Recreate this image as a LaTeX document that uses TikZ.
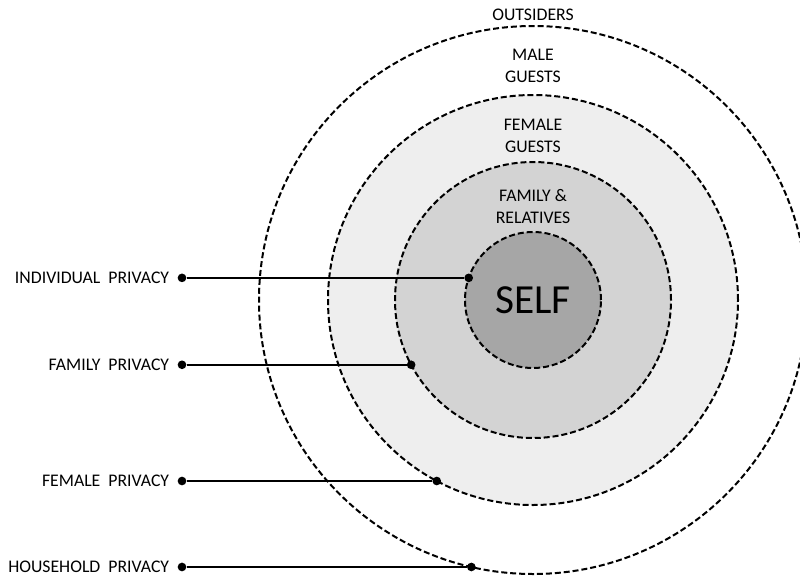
\documentclass[tikz,border=0pt]{standalone}
\usepackage{fontspec}
\setmainfont{Carlito}
\usetikzlibrary{positioning}
\definecolor{selfgray}{HTML}{A6A6A6}
\definecolor{familygray}{HTML}{D3D3D3}
\definecolor{femalegray}{HTML}{EEEEEE}
\tikzset{
	ring/.style  = {draw, circle, line width=1.5pt, dash pattern=on 4.5pt off 2.2pt,
		inner sep=0pt, outer sep=0pt},
	dot/.style   = {circle, fill=black, inner sep=0pt, minimum size=6.5pt},
	txt/.style   = {align=center, font=\fontsize{13.3}{16.5}\selectfont},
	lbl/.style   = {inner sep=0.5pt, font=\fontsize{13.3}{15}\selectfont},
	link/.style  = {line width=1.1pt}
}

\begin{document}
\begin{tikzpicture}[x=0.75pt, y=-0.75pt]
	\clip (0,0) rectangle (800,575);
	\draw
	node at (533,300) [ring, fill=white, minimum size=411pt] (outsiders) {}
	node at (533,300) [ring, fill=femalegray, minimum size=307.5pt] (female) {}
	node at (533,300) [ring, fill=familygray, minimum size=207pt] (family) {}
	node at (533,300) [ring, fill=selfgray, minimum size=102pt,
		font=\fontsize{31}{36}\selectfont] (self) {SELF}
	node at (533,15)  [txt] (tOut) {OUTSIDERS}
	node at (533,66)  [txt] (tMale) {MALE\\GUESTS}
	node at (533,136) [txt] (tFemale) {FEMALE\\GUESTS}
	node at (533,206) [txt] (tFamily) {FAMILY \&\\RELATIVES}
	;
	% dots on the rings
	\node[dot] (eInd) at (self.161.1) {};
	\node[dot] (eFam) at (family.208.6) {};
	\node[dot] (eFem) at (female.242.6) {};
	\node[dot] (eHou) at (outsiders.257) {};
	% dots at the labels
	\coordinate (xL) at (182,0);
	\node[dot] (sInd) at (xL |- eInd) {};
	\node[dot] (sFam) at (xL |- eFam) {};
	\node[dot] (sFem) at (xL |- eFem) {};
	\node[dot] (sHou) at (xL |- eHou) {};
	\node[lbl, left=5.5pt of sInd] (lInd) {INDIVIDUAL\ \ PRIVACY};
	\node[lbl, left=5.5pt of sFam] (lFam) {FAMILY\ \ PRIVACY};
	\node[lbl, left=5.5pt of sFem] (lFem) {FEMALE\ \ PRIVACY};
	\node[lbl, left=5.5pt of sHou] (lHou) {HOUSEHOLD\ \ PRIVACY};
	\draw[link] (sInd)--(eInd);
	\draw[link] (sFam)--(eFam);
	\draw[link] (sFem)--(eFem);
	\draw[link] (sHou)--(eHou);
\end{tikzpicture}
\end{document}
